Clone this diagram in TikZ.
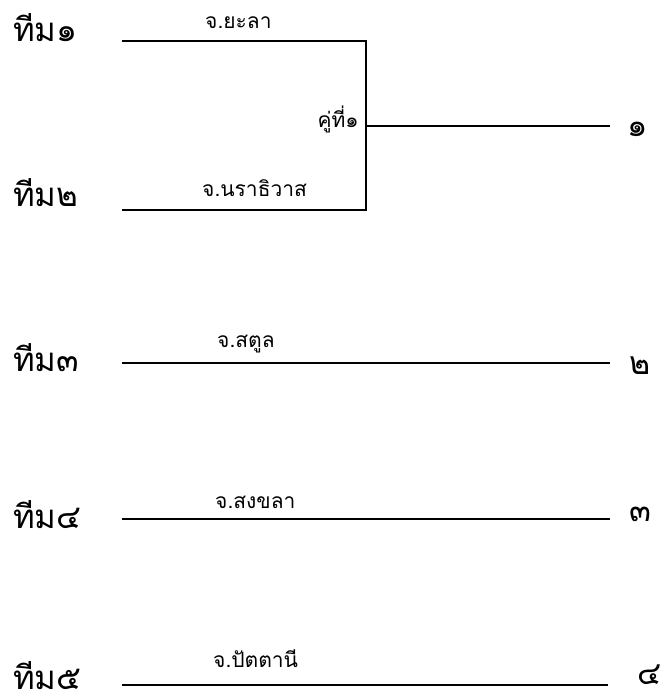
\documentclass[tikz,border=0pt]{standalone}
\usepackage{fontspec}
\newfontfamily\thaifont[Script=Thai]{Loma}
\tikzset{
	team/.style={font=\thaifont\fontsize{33}{36}\selectfont, inner sep=0pt, anchor=base west},
	prov/.style={font=\thaifont\fontsize{21}{24}\selectfont, inner sep=0pt, anchor=base west},
	rank/.style={font=\thaifont\fontsize{32}{34}\selectfont, inner sep=0pt},
	bracket/.style={black, line width=1.5pt}
}

\begin{document}
\begin{tikzpicture}[x=1pt, y=-1pt]
	% Fix the page size
	\useasboundingbox (0,0) rectangle (666,700);

	% Define coordinates
	% left end of each team line (a), bracket corner (c), right end (e)
	\coordinate (a1) at (122,41);
	\coordinate (c1) at (366,41);
	\coordinate (a2) at (122,210);
	\coordinate (c2) at (366,210);
	\coordinate (m1) at (366,126);
	\coordinate (e1) at (610,126);
	\coordinate (a3) at (122,363);
	\coordinate (c3) at (366,363);
	\coordinate (e3) at (610,363);
	\coordinate (a4) at (122,519);
	\coordinate (c4) at (366,519);
	\coordinate (e4) at (610,519);
	\coordinate (a5) at (122,685);
	\coordinate (c5) at (366,685);
	\coordinate (e5) at (608,685);

	% Team names on the left
	\node[team] (t1) at (13,42) {ทีม๑};
	\node[team] (t2) at (13,207) {ทีม๒};
	\node[team] (t3) at (13,371) {ทีม๓};
	\node[team] (t4) at (13,528) {ทีม๔};
	\node[team] (t5) at (13,689) {ทีม๕};

	% Provinces above the lines
	\node[prov] (p1) at (205,29) {จ.ยะลา};
	\node[prov] (p2) at (202,197) {จ.นราธิวาส};
	\node[prov] (p3) at (217,347) {จ.สตูล};
	\node[prov] (p4) at (215,508) {จ.สงขลา};
	\node[prov] (p5) at (213,667) {จ.ปัตตานี};

	% Match label
	\node[prov, anchor=base east] (k1) at (359,128) {คู่ที่๑};

	% Places on the right
	\node[rank] (r1) at (638,129) {๑};
	\node[rank] (r2) at (640,366) {๒};
	\node[rank] (r3) at (640,514) {๓};
	\node[rank] (r4) at (650,675) {๔};

	% Draw the bracket and the lines
	\draw[bracket] (a1) -- (c1) -- (c2) -- (a2);
	\draw[bracket] (m1) -- (e1);
	\draw[bracket] (a3) -- (c3) -- (e3);
	\draw[bracket] (a4) -- (c4) -- (e4);
	\draw[bracket] (a5) -- (c5) -- (e5);
\end{tikzpicture}
\end{document}
